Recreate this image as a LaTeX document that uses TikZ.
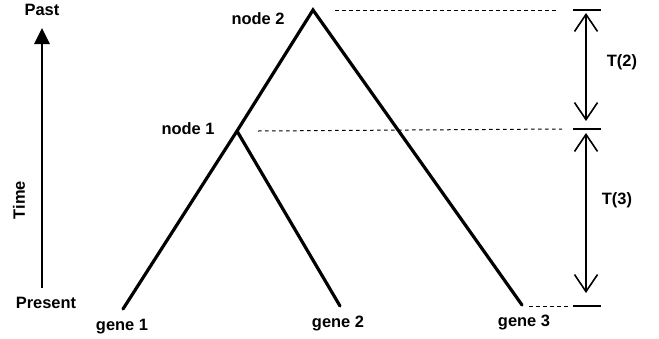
\documentclass[tikz,border=0pt]{standalone}
\usepackage{fontspec}
\setmainfont{Liberation Sans}
\usetikzlibrary{arrows.meta}
\begin{document}
\begin{tikzpicture}[x=1bp,y=-1bp,
  lbl/.style={font=\fontsize{16.5}{18}\selectfont\bfseries, inner sep=0pt},
  branch/.style={line width=3.2bp, line join=miter, line cap=round},
  guide/.style={line width=1bp, dash pattern=on 3.5bp off 3.5bp},
  tick/.style={line width=1.7bp},
  span/.style={line width=1.6bp, {Straight Barb[length=17bp,width=23bp,line width=1.6bp]}-{Straight Barb[length=17bp,width=23bp,line width=1.6bp]}},
  axis/.style={line width=2.8bp, -{Triangle[length=16bp,width=15bp]}}]
\useasboundingbox (0,0) rectangle (659,338);

% tree vertices
\coordinate (n2) at (313,10);
\coordinate (n1) at (237,131);
\coordinate (g1) at (123,309);
\coordinate (g2) at (340,306);
\coordinate (g3) at (522,305);

% branches
\draw[branch] (g1) -- (n1) -- (n2) -- (g3);
\draw[branch] (n1) -- (g2);

% labels
\node[lbl] (ln2) at (258,19) {node 2};
\node[lbl] (ln1) at (188,129) {node 1};
\node[lbl] (lg1) at (122,327) {gene 1};
\node[lbl] (lg2) at (338,323) {gene 2};
\node[lbl] (lg3) at (524,322) {gene 3};

% time axis
\coordinate (tb) at (42,288);
\coordinate (tt) at (42,28);
\draw[axis] (tb) -- (tt);
\node[lbl] (past) at (42,10) {Past};
\node[lbl] (present) at (46,303) {Present};
\node[lbl, rotate=90] (time) at (19,200) {Time};

% guide lines toward the scale
\coordinate (d2) at (557,10);
\coordinate (d1) at (562,129);
\coordinate (d0s) at (529,306);
\coordinate (d0) at (571,306);
\draw[guide] ([xshift=22bp]n2) -- (d2);
\draw[guide] ([xshift=21bp]n1) -- (d1);
\draw[guide] (d0s) -- (d0);

% scale ticks
\coordinate (k2a) at (573,10);  \coordinate (k2b) at (601,10);
\coordinate (k1a) at (573,129); \coordinate (k1b) at (601,129);
\coordinate (k0a) at (573,306); \coordinate (k0b) at (601,306);
\draw[tick] (k2a) -- (k2b);
\draw[tick] (k1a) -- (k1b);
\draw[tick] (k0a) -- (k0b);

% interval arrows
\coordinate (a2t) at (586,13);  \coordinate (a2b) at (586,121);
\coordinate (a3t) at (586,133); \coordinate (a3b) at (586,293);
\draw[span] (a2t) -- (a2b);
\draw[span] (a3t) -- (a3b);
\node[lbl] (t2) at (622,62) {T(2)};
\node[lbl] (t3) at (617,200) {T(3)};
\end{tikzpicture}
\end{document}
